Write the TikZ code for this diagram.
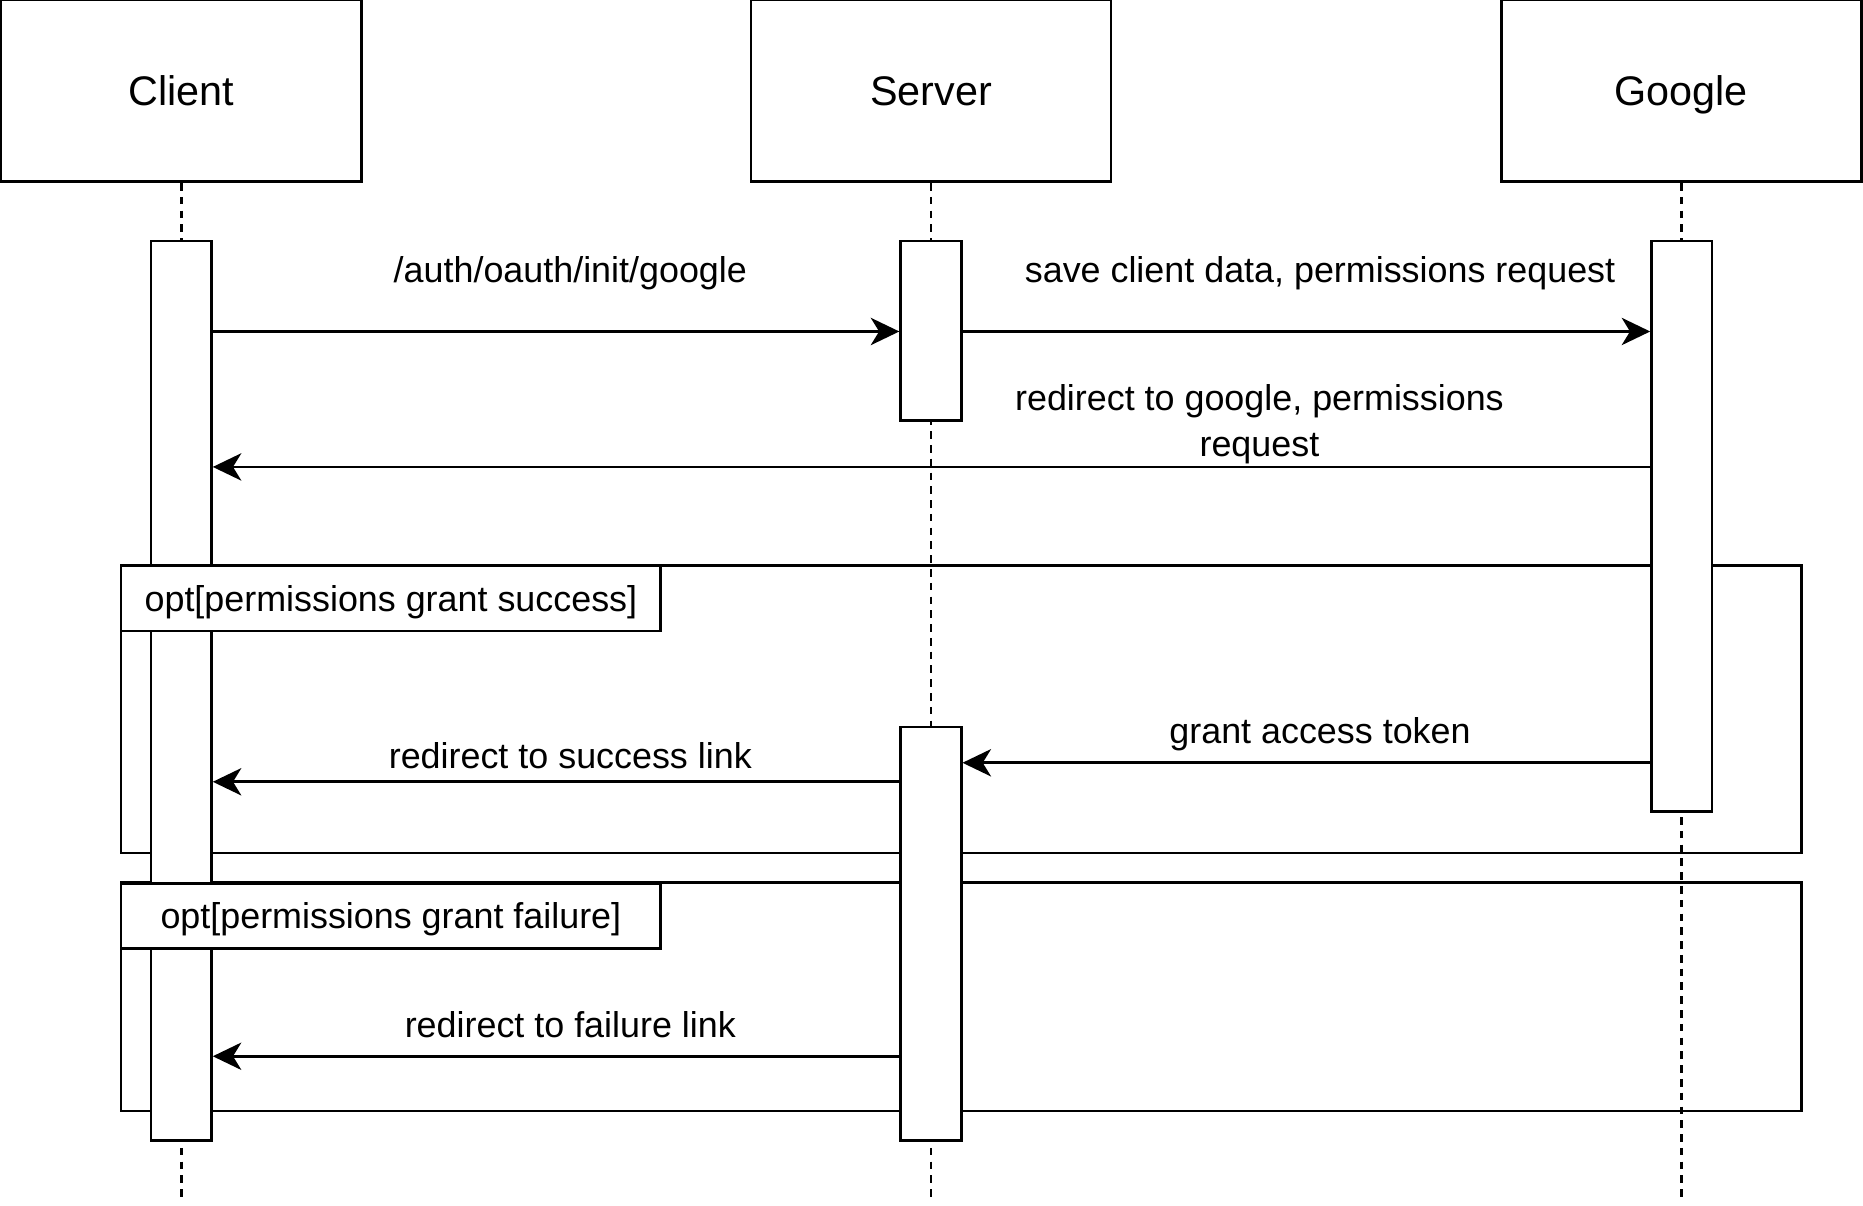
\documentclass[tikz,border=0pt]{standalone}
\usepackage{fontspec}
\setmainfont{Liberation Sans}
\usetikzlibrary{arrows.meta}

\begin{document}
\begin{tikzpicture}
[x=0.5pt,y=-0.5pt,%
  headdecorate/.style={shape=rectangle,draw,line width=1.1pt,minimum width=151.5pt,minimum height=76.5pt,inner sep=0pt,text height=12.5pt,text depth=0pt,font=\fontsize{17.4}{21}\selectfont},%
  actdecorate/.style={shape=rectangle,draw,fill=white,line width=1.1pt,minimum width=25.5pt,inner sep=0pt},%
  framedecorate/.style={shape=rectangle,draw,line width=1.1pt,minimum width=707pt,inner sep=0pt},%
  tagdecorate/.style={shape=rectangle,draw,fill=white,line width=1.1pt,minimum width=227pt,minimum height=27.5pt,inner sep=0pt,text height=10.8pt,text depth=0pt,font=\fontsize{15.1}{19}\selectfont},%
  lifedecorate/.style={line width=1.1pt,dash pattern=on 3.2pt off 2.6pt},%
  msgdecorate/.style={-{Stealth[length=12pt,width=11.5pt,inset=3.5pt]},line width=1.1pt},%
  labeldecorate/.style={inner sep=0pt,text height=10.8pt,text depth=0pt,font=\fontsize{15.1}{19}\selectfont}]
\useasboundingbox (0,0) rectangle (1568,1015);
%% participants
\foreach \nodename/\x/\txt in {client/152.5/Client, server/783.5/Server, google/1415/Google}
{
  \node (\nodename) at (\x,76.5) [headdecorate] {\txt};
  \coordinate (\nodename-end) at (\nodename.south |- 0,1012);
  \draw[lifedecorate] (\nodename.south) -- (\nodename-end);
}
%% opt frames
\node (optok) at (809,597) [framedecorate,minimum height=121pt] {};
\node (optfail) at (809,839) [framedecorate,minimum height=96pt] {};
%% activations
\foreach \nodename/\x/\y/\h in {actclient/152.5/581.5/757, actserver/783.5/278.5/151,
  actserverb/783.5/786/348, actgoogle/1415.5/443/480}
{
  \node (\nodename) at (\x,\y) [actdecorate,minimum height=\h*0.5pt] {};
}
%% frame tags
\node (optoktag) at (329,503.5) [tagdecorate] {opt[permissions grant success]};
\node (optfailtag) at (329,771) [tagdecorate] {opt[permissions grant failure]};
%% messages
\foreach \startnode/\startside/\endnode/\endside/\y in {
actclient/east/actserver/west/279, actserver/east/actgoogle/west/279,
actgoogle/west/actclient/east/393, actgoogle/west/actserverb/east/642,
actserverb/west/actclient/east/658, actserverb/west/actclient/east/889}
{
  \draw[msgdecorate] (\startnode.\startside |- 0,\y) -- (\endnode.\endside |- 0,\y);
}
%% message labels
\node (lblinit) at (480,227) [labeldecorate] {/auth/oauth/init/google};
\node (lblsave) at (1111,227) [labeldecorate] {save client data, permissions request};
\node (lblredirect) at (1060,357) [inner sep=0pt,align=center,font=\fontsize{15.1}{19}\selectfont] {redirect to google, permissions\\request};
\node (lbltoken) at (1111,615) [labeldecorate] {grant access token};
\node (lblsuccess) at (480,636) [labeldecorate] {redirect to success link};
\node (lblfailure) at (480,862) [labeldecorate] {redirect to failure link};
\end{tikzpicture}
\end{document}
